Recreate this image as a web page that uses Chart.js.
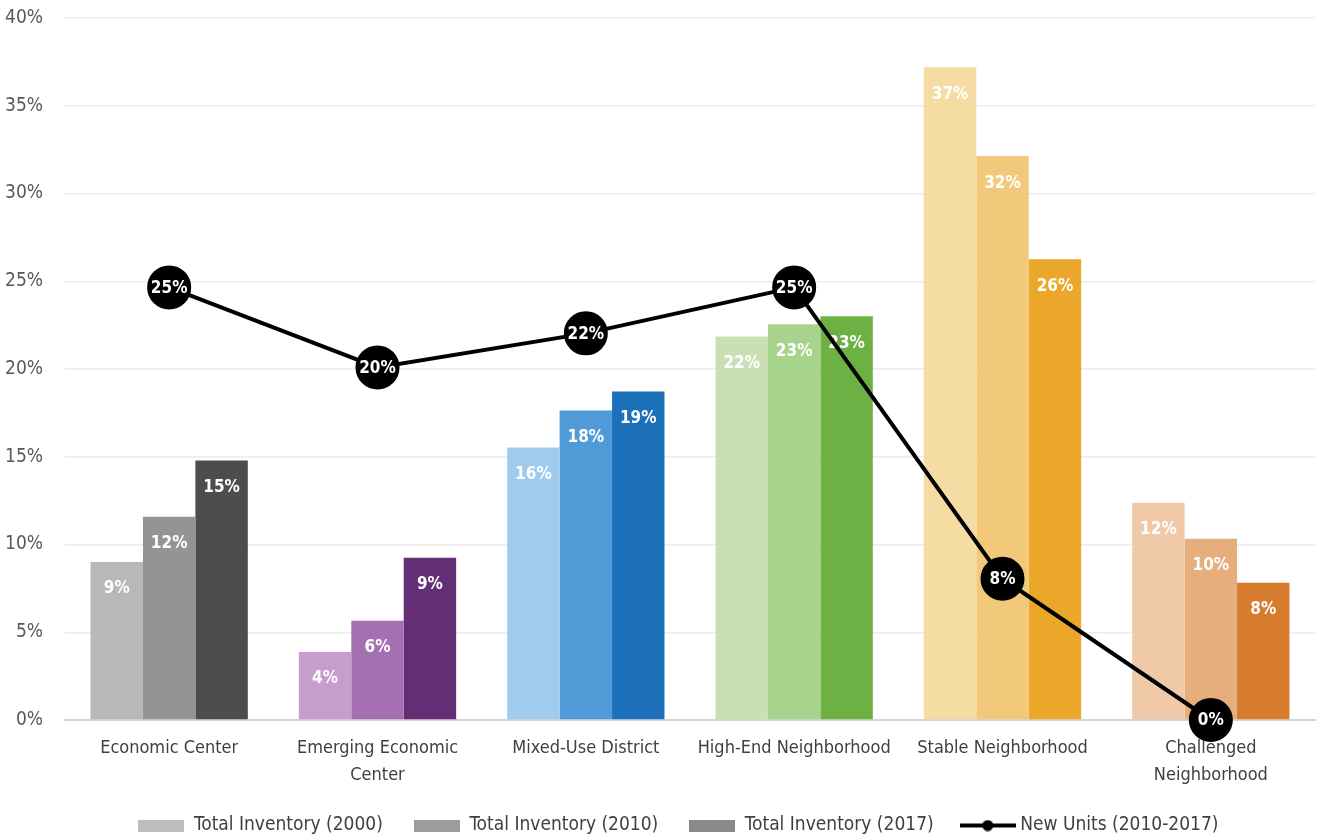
<!DOCTYPE html>
<html><head><meta charset="utf-8">
<script src="https://cdn.jsdelivr.net/npm/chart.js@4.4.1/dist/chart.umd.min.js"></script>
<style>html,body{margin:0;padding:0;background:#fff}#wrap{width:1317px;height:837px;position:relative}</style>
</head><body><div id="wrap"><canvas id="c"></canvas></div>
<script>
const categories = [["Economic Center"], ["Emerging Economic", "Center"], ["Mixed-Use District"], ["High-End Neighborhood"], ["Stable Neighborhood"], ["Challenged", "Neighborhood"]];
const inv2000 = [9.0, 3.88, 15.52, 21.85, 37.2, 12.38];
const inv2010 = [11.58, 5.65, 17.63, 22.55, 32.13, 10.33];
const inv2017 = [14.78, 9.24, 18.72, 23.0, 26.25, 7.82];
const newUnits = [24.65, 20.09, 22.03, 24.65, 8.05, 0];
const yTicks = [0, 5, 10, 15, 20, 25, 30, 35, 40];
const seriesNames = ["Total Inventory (2000)", "Total Inventory (2010)", "Total Inventory (2017)", "New Units (2010-2017)"];

const colors2000 = ["#b8b8b8", "#c69dcb", "#a0cbec", "#c9dfb4", "#f5dca3", "#f0caa8"];
const colors2010 = ["#949494", "#a570b1", "#509bd7", "#a7d38c", "#f2c97a", "#e6ae7c"];
const colors2017 = ["#4d4d4d", "#632e75", "#1b70b9", "#6db144", "#eba72a", "#d77b2c"];
const legendColors = ["#bdbdbd", "#9c9c9c", "#8a8a8a"];

const FONT = "'Liberation Sans Narrow', 'DejaVu Sans Condensed', 'Roboto Condensed', sans-serif";

function boxImg(color) {
  const c = document.createElement('canvas'); c.width = 46; c.height = 12;
  const x = c.getContext('2d'); x.fillStyle = color; x.fillRect(0, 0, 46, 12); return c;
}
function lineImg() {
  const c = document.createElement('canvas'); c.width = 56; c.height = 12;
  const x = c.getContext('2d'); x.strokeStyle = '#000'; x.lineWidth = 4;
  x.beginPath(); x.moveTo(0, 6); x.lineTo(56, 6); x.stroke();
  x.fillStyle = '#000'; x.beginPath(); x.arc(28, 6, 5.5, 0, Math.PI * 2); x.fill(); return c;
}

const labelPlugin = {
  id: 'vlabels',
  afterLayout(chart) {
    if (chart.legend) { chart.legend.left += 21; chart.legend.right += 21; }
  },
  afterDatasetDraw(chart, args) {
    const ctx = chart.ctx; const ds = chart.data.datasets[args.index];
    ctx.save();
    ctx.fillStyle = '#fff'; ctx.textAlign = 'center'; ctx.textBaseline = 'middle';
    ctx.font = "bold 17px " + FONT;
    if (ds.type === 'line') {
      args.meta.data.forEach((p, j) => ctx.fillText(Math.round(ds.data[j]) + '%', p.x, p.y + 1));
    } else {
      args.meta.data.forEach((b, j) => ctx.fillText(Math.round(ds.data[j]) + '%', b.x, b.y + 27));
    }
    ctx.restore();
  }
};

new Chart(document.getElementById('c'), {
  data: {
    labels: categories,
    datasets: [
      { type: 'line', label: seriesNames[3], data: newUnits, order: 0, borderColor: '#000', borderWidth: 4, clip: false,
        pointRadius: 20, pointHoverRadius: 20, pointBackgroundColor: '#000', pointBorderColor: '#000', tension: 0 },
      { type: 'bar', label: seriesNames[0], data: inv2000, order: 1, backgroundColor: colors2000 },
      { type: 'bar', label: seriesNames[1], data: inv2010, order: 1, backgroundColor: colors2010 },
      { type: 'bar', label: seriesNames[2], data: inv2017, order: 1, backgroundColor: colors2017 }
    ]
  },
  options: {
    responsive: true, maintainAspectRatio: false, animation: false,
    layout: { autoPadding: false, padding: { top: 18, right: 2, left: 0, bottom: -8 } },
    datasets: { bar: { categoryPercentage: 0.755, barPercentage: 1.0 } },
    plugins: {
      tooltip: { enabled: false },
      legend: {
        position: 'bottom',
        labels: {
          usePointStyle: true, pointStyleWidth: 46, boxHeight: 12, padding: 31,
          color: '#404040', font: { family: FONT, size: 19 },
          generateLabels() {
            return [
              { text: seriesNames[0], pointStyle: boxImg(legendColors[0]), fillStyle: legendColors[0], lineWidth: 0, fontColor: '#404040', datasetIndex: 1 },
              { text: seriesNames[1], pointStyle: boxImg(legendColors[1]), fillStyle: legendColors[1], lineWidth: 0, fontColor: '#404040', datasetIndex: 2 },
              { text: seriesNames[2], pointStyle: boxImg(legendColors[2]), fillStyle: legendColors[2], lineWidth: 0, fontColor: '#404040', datasetIndex: 3 },
              { text: seriesNames[3], pointStyle: lineImg(), fillStyle: '#000', lineWidth: 0, fontColor: '#404040', datasetIndex: 0 }
            ];
          }
        }
      }
    },
    scales: {
      x: {
        grid: { display: false, drawTicks: false },
        border: { display: true, color: '#d6d6d6', width: 2 },
        ticks: { color: '#404040', font: { family: FONT, size: 18, lineHeight: 1.5 }, padding: 15, maxRotation: 0, autoSkip: false },
        afterFit(s) { s.height = 65; s.paddingLeft = 0; s.paddingRight = 0; }
      },
      y: {
        min: 0, max: 40,
        afterBuildTicks(s) { s.ticks = yTicks.map(v => ({ value: v })); },
        grid: { color: '#ececec', lineWidth: 1.5, drawTicks: false },
        border: { display: false },
        ticks: { color: '#595959', font: { family: FONT, size: 19 }, padding: 22, callback: v => v + '%' },
        afterFit(s) { s.width = 65; s.paddingTop = 0; s.paddingBottom = 0; }
      }
    }
  },
  plugins: [labelPlugin]
});
</script></body></html>
